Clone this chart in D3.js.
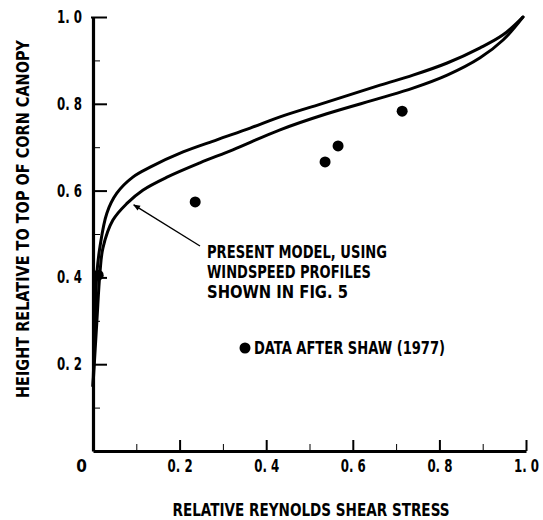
<!DOCTYPE html>
<html>
<head>
<meta charset="utf-8">
<script src="https://cdn.jsdelivr.net/npm/d3@7"></script>
<style>
  body { margin: 0; background: #fff; }
  svg text { font-family: "DejaVu Sans Condensed", "Liberation Sans Narrow", "DejaVu Sans", sans-serif; font-weight: bold; fill: #000; }
</style>
</head>
<body>
<div id="chart"></div>
<script>
// Reynolds shear stress profile

// model curves, [stress, height]
const outerCurve = [
  [0.0, 0.15], [0.005, 0.30], [0.009, 0.41], [0.016, 0.47], [0.032, 0.548],
  [0.055, 0.594], [0.092, 0.631], [0.132, 0.654], [0.208, 0.689], [0.286, 0.717],
  [0.363, 0.744], [0.432, 0.770], [0.540, 0.804], [0.663, 0.843], [0.739, 0.866],
  [0.818, 0.894], [0.894, 0.929], [0.947, 0.959], [0.993, 1.0]
];
const innerCurve = [
  [0.0, 0.15], [0.009, 0.30], [0.016, 0.41], [0.023, 0.468], [0.046, 0.532],
  [0.079, 0.571], [0.115, 0.601], [0.171, 0.631], [0.247, 0.664], [0.323, 0.694],
  [0.432, 0.740], [0.540, 0.777], [0.663, 0.813], [0.739, 0.836], [0.818, 0.866],
  [0.894, 0.906], [0.947, 0.947], [0.993, 1.0]
];
// Shaw (1977) data
const shawData = [
  [0.012, 0.405], [0.236, 0.574], [0.536, 0.666], [0.566, 0.703], [0.714, 0.783]
];

const majorTicks = [0, 0.2, 0.4, 0.6, 0.8, 1.0];
const minorTicks = [0.1, 0.3, 0.5, 0.7, 0.9];
const xTickLabels = ['0', '0. 2', '0. 4', '0. 6', '0. 8', '1. 0'];
const yTickLabels = ['', '0. 2', '0. 4', '0. 6', '0. 8', '1. 0'];
const noteLines = ['PRESENT MODEL, USING', 'WINDSPEED PROFILES', 'SHOWN IN FIG. 5'];
const legendText = 'DATA AFTER SHAW (1977)';
const xTitle = 'RELATIVE REYNOLDS SHEAR STRESS';
const yTitle = 'HEIGHT RELATIVE TO TOP OF CORN CANOPY';

const width = 543, height = 520;
const margin = { left: 93, top: 17, right: 17, bottom: 69 };

const svg = d3.select('#chart').append('svg')
  .attr('width', width).attr('height', height);

const x = d3.scaleLinear().domain([0, 1]).range([margin.left, width - margin.right]);
const y = d3.scaleLinear().domain([0, 1]).range([height - margin.bottom, margin.top]);

// arrowhead
svg.append('defs').append('marker')
  .attr('id', 'arrow')
  .attr('viewBox', '0 0 10 10')
  .attr('refX', 9).attr('refY', 5)
  .attr('markerWidth', 9).attr('markerHeight', 7)
  .attr('markerUnits', 'userSpaceOnUse')
  .attr('orient', 'auto')
  .append('path').attr('d', 'M0,1 L10,5 L0,9 Z').attr('fill', '#000');

// minor ticks
svg.append('g')
  .attr('transform', `translate(${x(0)},0)`)
  .call(d3.axisLeft(y).tickValues(minorTicks).tickSize(-7).tickFormat(''))
  .call(g => g.select('.domain').remove());
svg.append('g')
  .attr('transform', `translate(0,${y(0)})`)
  .call(d3.axisBottom(x).tickValues(minorTicks).tickSize(-7).tickFormat(''))
  .call(g => g.select('.domain').remove());

// major axes
const yAxis = svg.append('g')
  .attr('transform', `translate(${x(0)},0)`)
  .call(d3.axisLeft(y).tickValues(majorTicks).tickSizeInner(-14).tickSizeOuter(0)
    .tickPadding(11).tickFormat((d, i) => yTickLabels[i]));
const xAxis = svg.append('g')
  .attr('transform', `translate(0,${y(0)})`)
  .call(d3.axisBottom(x).tickValues(majorTicks).tickSizeInner(-11).tickSizeOuter(0)
    .tickPadding(9).tickFormat((d, i) => xTickLabels[i]));

[xAxis, yAxis].forEach(g => {
  g.selectAll('.domain').attr('stroke-width', 3.2);
  g.selectAll('.tick line').attr('stroke-width', 2);
  g.selectAll('text').attr('font-size', 17).attr('font-family', null)
    .attr('textLength', d => d === 0 ? null : 25).attr('lengthAdjust', 'spacingAndGlyphs');
});
xAxis.selectAll('.tick').filter(d => d === 0).select('text').attr('x', -12);
xAxis.selectAll('.tick').filter(d => d === 0).select('line').remove();
yAxis.selectAll('.tick').filter(d => d === 0).select('line').remove();
yAxis.selectAll('.tick').filter(d => d === 1).select('line').attr('x1', -2);
svg.selectAll('.tick line').attr('stroke', '#000');
svg.selectAll('.domain').attr('stroke', '#000');

// model curves
const line = d3.line().x(d => x(d[0])).y(d => y(d[1])).curve(d3.curveCatmullRom.alpha(0.5));
[outerCurve, innerCurve].forEach(c => {
  svg.append('path').datum(c)
    .attr('d', line)
    .attr('fill', 'none')
    .attr('stroke', '#000')
    .attr('stroke-width', 3)
    .attr('stroke-linejoin', 'round')
    .attr('stroke-linecap', 'round');
});

// data points
svg.selectAll('.pt').data(shawData).enter().append('circle')
  .attr('class', 'pt')
  .attr('cx', d => x(d[0])).attr('cy', d => y(d[1]))
  .attr('r', 5.5).attr('fill', '#000');

// annotation
svg.append('line')
  .attr('x1', 200).attr('y1', 246)
  .attr('x2', x(0.094)).attr('y2', y(0.567))
  .attr('stroke', '#000').attr('stroke-width', 1.4)
  .attr('marker-end', 'url(#arrow)');

const noteW = [180, 164, 141];
svg.append('g').selectAll('text').data(noteLines).enter().append('text')
  .attr('x', 207).attr('y', (d, i) => 258 + i * 20)
  .attr('font-size', 18)
  .attr('textLength', (d, i) => noteW[i]).attr('lengthAdjust', 'spacingAndGlyphs')
  .text(d => d);

// legend
svg.append('circle').attr('cx', 245).attr('cy', 348).attr('r', 5.5).attr('fill', '#000');
svg.append('text').attr('x', 254).attr('y', 354).attr('font-size', 18)
  .attr('textLength', 191).attr('lengthAdjust', 'spacingAndGlyphs')
  .text(legendText);

// axis titles
svg.append('text')
  .attr('x', 311).attr('y', 516)
  .attr('text-anchor', 'middle').attr('font-size', 18)
  .attr('textLength', 277).attr('lengthAdjust', 'spacingAndGlyphs')
  .text(xTitle);
svg.append('text')
  .attr('transform', 'translate(29,219) rotate(-90)')
  .attr('text-anchor', 'middle').attr('font-size', 18)
  .attr('textLength', 358).attr('lengthAdjust', 'spacingAndGlyphs')
  .text(yTitle);
</script>
</body>
</html>
